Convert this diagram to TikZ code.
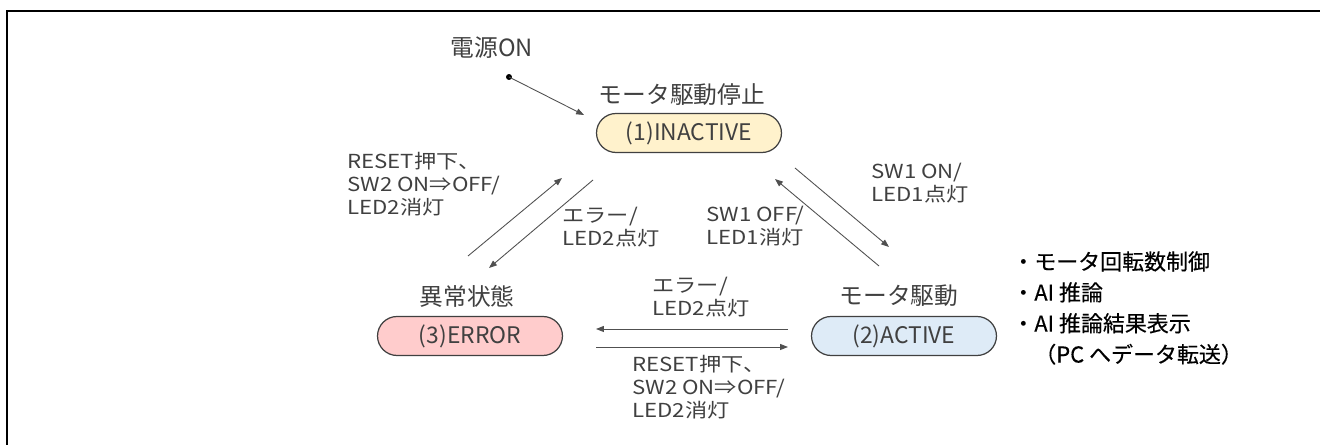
\documentclass[tikz,border=0pt]{standalone}
\usepackage{fontspec}
\setmainfont{Noto Sans CJK JP}
\newfontfamily\condfont[FakeStretch=1.15]{Noto Sans CJK JP}
\newfontfamily\taskfont[FakeBold=0.3]{Noto Sans CJK JP}
\usetikzlibrary{arrows.meta,shapes.misc}
\definecolor{txtgray}{HTML}{404040}
\definecolor{linegray}{HTML}{505050}
\definecolor{inactfill}{HTML}{FFF2CC}
\definecolor{errfill}{HTML}{FFCCCC}
\definecolor{actfill}{HTML}{DEEBF7}

\begin{document}
\begin{tikzpicture}[
    x=0.02cm, y=-0.02cm,
    state/.style={rounded rectangle, draw=txtgray, line width=0.7pt, minimum width=3.7cm, minimum height=0.78cm, inner sep=0pt, text=txtgray, font=\fontsize{13}{15}\selectfont},
    title/.style={text=txtgray, inner sep=0pt, font=\fontsize{13.5}{15}\selectfont},
    cond/.style={text=txtgray, align=left, anchor=west, inner sep=0pt, font=\condfont\fontsize{11}{13}\selectfont},
    trans/.style={-{Triangle[length=4.5pt, width=3.4pt]}, draw=linegray, line width=0.5pt}
]
\useasboundingbox (0,0) rectangle (1320,445);
\draw[line width=1.1pt] (1320,11) -- (7,11) -- (7,445);

% states
\node[state, fill=inactfill] (inactive) at (689,133) {(1)INACTIVE};
\node[state, fill=errfill] (error) at (470,336) {(3)ERROR};
\node[state, fill=actfill] (active) at (904,336) {(2)ACTIVE};

\node[title] (inactive-name) at (682,95) {モータ駆動停止};
\node[title] (error-name) at (467,296) {異常状態};
\node[title] (active-name) at (899,296) {モータ駆動};

% power on
\node[title] (power) at (492,48) {電源ON};
\coordinate (start) at (509,77);
\coordinate (start-end) at (584,115);
\fill[black] (start) circle (1.7pt);
\draw[trans] (start) -- (start-end);

% transition ends
\coordinate (e2i-a) at (468,256);
\coordinate (e2i-b) at (562,178);
\coordinate (i2e-a) at (593,180);
\coordinate (i2e-b) at (489,268);
\coordinate (a2i-a) at (879,266);
\coordinate (a2i-b) at (775,179);
\coordinate (i2a-a) at (795,168);
\coordinate (i2a-b) at (889,247);
\coordinate (a2e-a) at (788,329);
\coordinate (a2e-b) at (596,329);
\coordinate (e2a-a) at (596,347);
\coordinate (e2a-b) at (788,347);

\draw[trans] (e2i-a) -- (e2i-b);
\draw[trans] (i2e-a) -- (i2e-b);
\draw[trans] (a2i-a) -- (a2i-b);
\draw[trans] (i2a-a) -- (i2a-b);
\draw[trans] (a2e-a) -- (a2e-b);
\draw[trans] (e2a-a) -- (e2a-b);

% conditions
\node[cond] (c-e2i) at (347,184) {RESET押下、\\SW2 ON⇒OFF/\\LED2消灯};
\node[cond] (c-i2e) at (562,227) {エラー/\\LED2点灯};
\node[cond] (c-a2i) at (706,226) {SW1 OFF/\\LED1消灯};
\node[cond] (c-i2a) at (871,183) {SW1 ON/\\LED1点灯};
\node[cond] (c-a2e) at (652,297) {エラー/\\LED2点灯};
\node[cond] (c-e2a) at (632,387) {RESET押下、\\SW2 ON⇒OFF/\\LED2消灯};

% active tasks
\node[anchor=west, align=left, inner sep=0pt, font=\taskfont\fontsize{12.5}{17.6}\selectfont] (tasks) at (1012,308)
  {・モータ回転数制御\\・AI 推論\\・AI 推論結果表示\\　（PC へデータ転送）};
\end{tikzpicture}
\end{document}
